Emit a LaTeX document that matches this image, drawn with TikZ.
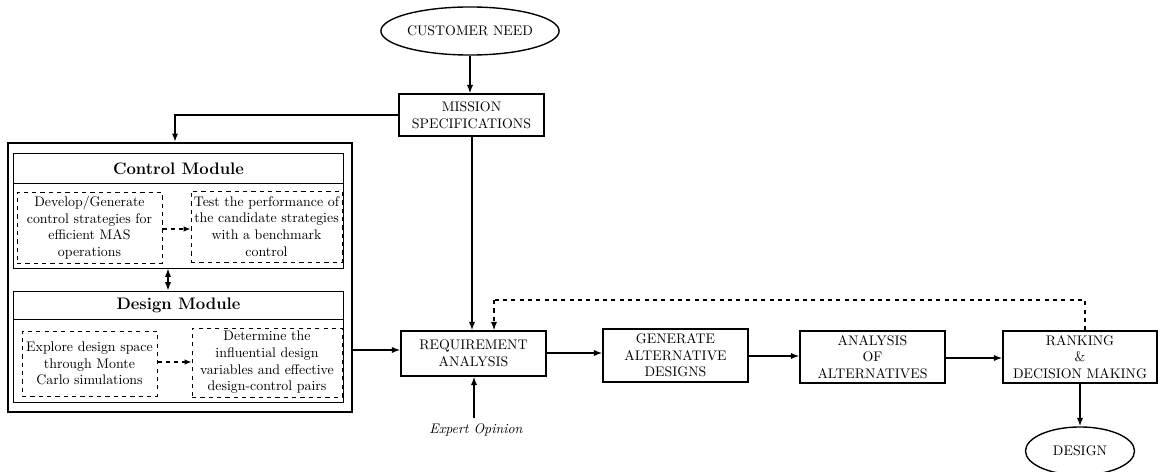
\documentclass[tikz,border=0pt]{standalone}
\usetikzlibrary{arrows.meta,shapes.geometric}
\begin{document}
\begin{tikzpicture}[x=0.72pt,y=-0.72pt,
  box/.style={draw,line width=1pt,align=center,inner sep=0pt,font=\normalsize},
  oval/.style={draw,ellipse,line width=1pt,align=center,inner sep=0pt},
  dbox/.style={draw,dashed,line width=0.7pt,align=center,inner sep=0pt,font=\normalsize},
  module/.style={draw,line width=0.7pt,inner sep=0pt},
  arr/.style={line width=1.1pt,-{Latex[length=6pt,width=4.5pt]}},
  darr/.style={line width=0.9pt,dashed,-{Latex[length=5pt,width=4pt]}},
  dline/.style={line width=1.1pt,dashed},
  title/.style={font=\large\bfseries}]
\useasboundingbox (0,0) rectangle (1158,472);

% start and end of the process
\node[oval,minimum width=109.4pt,minimum height=34.6pt] (need) at (470,31) {CUSTOMER NEED};
\node[box,minimum width=104.4pt,minimum height=30.2pt] (mission) at (471.5,115) {MISSION\\SPECIFICATIONS};

% framework of the two modules
\node[draw,line width=1.6pt,minimum width=247.7pt,minimum height=193.7pt,inner sep=0pt] (frame) at (180,277.5) {};
\node[module,minimum width=237.6pt,minimum height=82.8pt] (control) at (178.5,210.5) {};
\node[module,minimum width=237.6pt,minimum height=80.6pt] (design) at (178.5,347) {};
\node[title] (ctitle) at (178.5,168.5) {Control Module};
\node[title] (dtitle) at (178.5,305) {Design Module};
\draw[line width=0.7pt] (control.west |- 0,183) -- (control.east |- 0,183);
\draw[line width=0.7pt] (design.west |- 0,319) -- (design.east |- 0,319);

\node[dbox,minimum width=104.4pt,minimum height=51.1pt] (c1) at (89.5,227.5)
  {Develop/Generate\\control strategies for\\efficient MAS\\operations};
\node[dbox,minimum width=108.7pt,minimum height=51.1pt] (c2) at (266.5,226.5)
  {Test the performance of\\the candidate strategies\\with a benchmark\\control};
\node[dbox,minimum width=97.2pt,minimum height=46.8pt] (d1) at (89.5,363.5)
  {Explore design space\\through Monte\\Carlo simulations};
\node[dbox,minimum width=108pt,minimum height=49.7pt] (d2) at (267,362.5)
  {Determine the\\influential design\\variables and effective\\design-control pairs};

% main process chain
\node[box,minimum width=104.4pt,minimum height=32.4pt] (req) at (473.5,353.5) {REQUIREMENT\\ANALYSIS};
\node[box,minimum width=104.4pt,minimum height=38.2pt] (gen) at (675.5,355.5) {GENERATE\\ALTERNATIVE\\DESIGNS};
\node[box,minimum width=104.4pt,minimum height=37.4pt] (ana) at (872.5,357) {ANALYSIS\\OF\\ALTERNATIVES};
\node[box,minimum width=110.9pt,minimum height=37.4pt] (rank) at (1080,357) {RANKING\\\&\\DECISION MAKING};
\node[oval,minimum width=78.5pt,minimum height=34.6pt] (out) at (1080,451) {DESIGN};
\node[font=\itshape] (expert) at (476,430) {Expert Opinion};

% connectors
\coordinate (fin) at (175,0);
\coordinate (split) at (168,0);
\coordinate (down) at (472,0);
\coordinate (fbR) at (1085,300);
\coordinate (fbL) at (494,300);
\coordinate (exTop) at (474,418);

\draw[arr] (need.south) -- (need.south |- mission.north);
\draw[arr] (mission.west) -| (fin |- frame.north);
\draw[arr] (down |- mission.south) -- (down |- req.north);
\draw[line width=1.1pt,{Latex[length=6pt,width=4.5pt]}-{Latex[length=6pt,width=4.5pt]}]
  (split |- control.south) -- (split |- design.north);
\draw[darr] (c1.east |- 0,229) -- (c2.west |- 0,229);
\draw[darr] (d1.east |- 0,362) -- (d2.west |- 0,362);
\draw[arr] (frame.east |- 0,350) -- (req.west |- 0,350);
\draw[arr] (req.east |- 0,353) -- (gen.west |- 0,353);
\draw[arr] (gen.east |- 0,356) -- (ana.west |- 0,356);
\draw[arr] (ana.east |- 0,358) -- (rank.west |- 0,358);
\draw[arr] (rank.south) -- (out.north);
\draw[arr] (exTop) -- (exTop |- req.south);
\draw[dline] (rank.north -| fbR) -- (fbR) -- (fbL);
\draw[darr,line width=1.1pt,-{Latex[length=6pt,width=4.5pt]}] (fbL) -- (fbL |- req.north);
\end{tikzpicture}
\end{document}
